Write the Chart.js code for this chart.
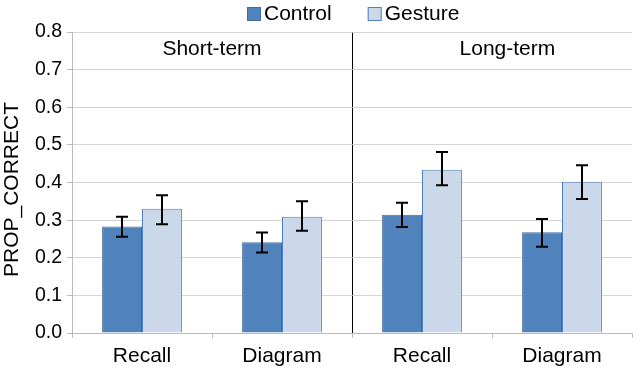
<!DOCTYPE html>
<html>
<head>
<meta charset="utf-8">
<script src="https://cdn.jsdelivr.net/npm/chart.js@4.4.1/dist/chart.umd.min.js"></script>
<style>
  html, body { margin: 0; padding: 0; background: #fff; }
  #wrap { width: 638px; height: 372px; }
</style>
</head>
<body>
<div id="wrap"><canvas id="chart" width="638" height="372"></canvas></div>
<script>
// Proportion correct by test type, short-term vs long-term, with error bars.
const categories = ['Recall', 'Diagram', 'Recall', 'Diagram'];
const seriesNames = ['Control', 'Gesture'];
const controlValues = [0.283, 0.241, 0.314, 0.268];
const controlLow = [0.256, 0.214, 0.282, 0.229];
const controlHigh = [0.309, 0.267, 0.346, 0.303];
const gestureValues = [0.330, 0.309, 0.434, 0.402];
const gestureLow = [0.289, 0.272, 0.393, 0.356];
const gestureHigh = [0.366, 0.350, 0.481, 0.446];
const yMin = 0;
const yMax = 0.8;
const yStep = 0.1;
const yTitle = 'PROP_CORRECT';
const phaseLabels = ['Short-term', 'Long-term'];
const phaseCenters = [0.5, 2.61];

const FONT = '"Liberation Sans", Arial, Helvetica, sans-serif';
const controlFill = '#5082BC';
const controlBorder = '#3E6C9F';
const gestureFill = '#CAD8EA';
const gestureBorder = '#4F80BA';
const gridGray = '#D4D4D4';

const errorBars = {
  id: 'errorBars',
  afterDatasetsDraw(chart) {
    const { ctx } = chart;
    const y = chart.scales.y;
    const ranges = [[controlLow, controlHigh], [gestureLow, gestureHigh]];
    ctx.save();
    ctx.strokeStyle = '#000';
    ctx.lineWidth = 2;
    ranges.forEach(([lo, hi], i) => {
      chart.getDatasetMeta(i).data.forEach((bar, j) => {
        const x = Math.round(bar.x);
        const yl = y.getPixelForValue(lo[j]);
        const yh = y.getPixelForValue(hi[j]);
        ctx.beginPath();
        ctx.moveTo(x, yl); ctx.lineTo(x, yh);
        ctx.moveTo(x - 6, yl); ctx.lineTo(x + 6, yl);
        ctx.moveTo(x - 6, yh); ctx.lineTo(x + 6, yh);
        ctx.stroke();
      });
    });
    ctx.restore();
  },
};

const labelsAndLegend = {
  id: 'labelsAndLegend',
  afterDraw(chart) {
    const { ctx } = chart;
    const x = chart.scales.x;
    const area = chart.chartArea;
    ctx.save();
    ctx.font = '21px ' + FONT;
    ctx.fillStyle = '#000';
    ctx.textBaseline = 'middle';
    ctx.textAlign = 'center';
    phaseLabels.forEach((t, i) => {
      ctx.fillText(t, x.getPixelForValue(phaseCenters[i]), 49);
    });

    // y title, sits a little below the plot's middle
    ctx.save();
    ctx.translate(12, (area.top + area.bottom) / 2 + 7);
    ctx.rotate(-Math.PI / 2);
    ctx.fillText(yTitle, 0, 0);
    ctx.restore();

    // legend, centred over the plot area
    const fills = [controlFill, gestureFill];
    const borders = [controlBorder, gestureBorder];
    const box = 14, gap = 3, spacing = 36;
    const widths = seriesNames.map(n => box + gap + ctx.measureText(n).width);
    const total = widths.reduce((a, b) => a + b, 0) + spacing;
    let lx = Math.round((area.left + area.right) / 2 + 1 - total / 2);
    ctx.textAlign = 'left';
    seriesNames.forEach((n, i) => {
      ctx.fillStyle = fills[i];
      ctx.fillRect(lx, 7, box, box);
      ctx.strokeStyle = borders[i];
      ctx.lineWidth = 1;
      ctx.strokeRect(lx + 0.5, 7.5, box - 1, box - 1);
      ctx.fillStyle = '#000';
      ctx.fillText(n, lx + box + gap, 14);
      lx += widths[i] + spacing;
    });
    ctx.restore();
  },
};

new Chart(document.getElementById('chart'), {
  type: 'bar',
  data: {
    labels: categories,
    datasets: [
      {
        label: seriesNames[0],
        data: controlValues,
        backgroundColor: controlFill,
        borderColor: controlBorder,
        borderWidth: 1,
        categoryPercentage: 0.57,
        barPercentage: 1,
      },
      {
        label: seriesNames[1],
        data: gestureValues,
        backgroundColor: gestureFill,
        borderColor: gestureBorder,
        borderWidth: 1,
        categoryPercentage: 0.57,
        barPercentage: 1,
      },
    ],
  },
  options: {
    responsive: false,
    animation: false,
    devicePixelRatio: 1,
    layout: { padding: { top: 32, right: 6, left: 0, bottom: 0 } },
    scales: {
      x: {
        afterFit: (s) => { s.height = 39; },
        grid: {
          offset: true,
          drawOnChartArea: true,
          color: (ctx) => (ctx.index === 2 ? '#000' : 'rgba(0,0,0,0)'),
          tickColor: '#BBBBBB',
          tickLength: 5,
        },
        border: { color: '#BBBBBB' },
        ticks: { color: '#000', font: { size: 21, family: FONT }, padding: 6 },
      },
      y: {
        min: yMin,
        max: yMax,
        afterFit: (s) => { s.width = 72; },
        ticks: {
          stepSize: yStep,
          color: '#000',
          font: { size: 19.5, family: FONT },
          padding: 5,
          callback: (v) => Number(v).toFixed(1),
        },
        grid: { color: gridGray, tickColor: '#BBBBBB', tickLength: 5 },
        border: { color: '#BBBBBB' },
        title: { display: false },
      },
    },
    plugins: {
      legend: { display: false },
      tooltip: { enabled: false },
    },
  },
  plugins: [errorBars, labelsAndLegend],
});
</script>
</body>
</html>
